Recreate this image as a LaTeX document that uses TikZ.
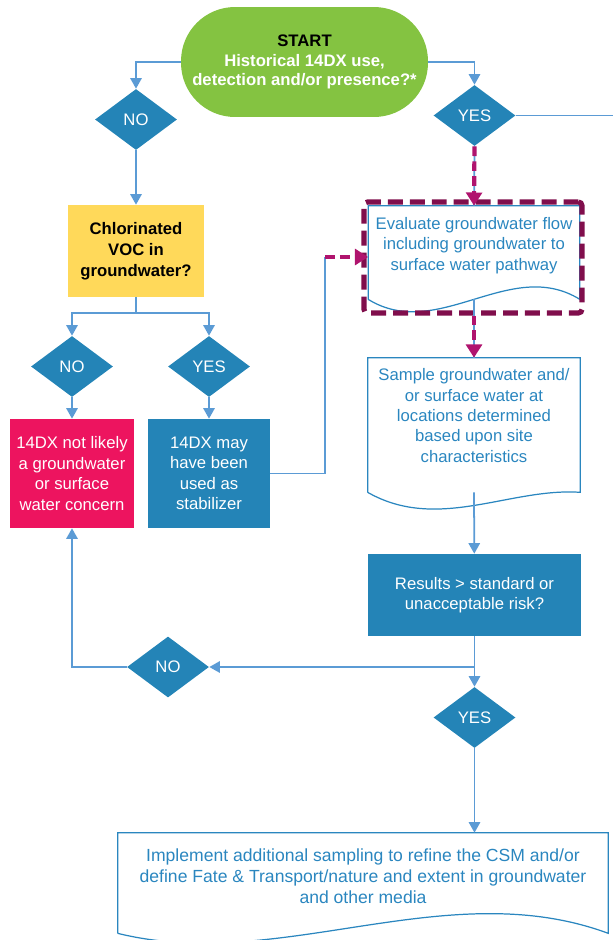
\documentclass[tikz,border=0pt]{standalone}
\usepackage{fontspec}
\setmainfont{Liberation Sans}
\usepackage{xcolor}
\usetikzlibrary{arrows.meta, positioning, shapes.geometric, calc, fit}

\definecolor{startgreen}{RGB}{132,195,65}
\definecolor{decblue}{RGB}{36,132,183}
\definecolor{vocyellow}{RGB}{255,217,90}
\definecolor{concern}{RGB}{237,20,95}
\definecolor{wire}{RGB}{91,155,213}
\definecolor{doctext}{RGB}{42,134,191}
\definecolor{hlarrow}{RGB}{176,20,110}
\definecolor{hlframe}{RGB}{128,14,76}

% document outline: node, drop of the sides, wave near right, wave near left
\newcommand{\docoutline}[4]{%
  \coordinate (#1-l)    at ([yshift=-#2]#1.south west);
  \coordinate (#1-r)    at ([yshift=-#2]#1.south east);
  \coordinate (#1-foot) at ([yshift=-#2]#1.south);
  \draw[docline] (#1-l) -- (#1.north west) -- (#1.north east) -- (#1-r)
    .. controls ($(#1-r)!0.33!(#1-l)+(0,#3)$) and ($(#1-r)!0.67!(#1-l)+(0,#4)$) .. (#1-l);
}

\begin{document}
\begin{tikzpicture}[
    x=0.02cm, y=-0.02cm,
    font=\fontsize{9.5}{11.6}\selectfont,
    terminal/.style={rectangle, fill=startgreen, rounded corners=1.08cm, inner sep=0pt,
                     minimum width=4.94cm, minimum height=2.2cm, align=center,
                     font=\bfseries\fontsize{9.5}{11.2}\selectfont},
    decision/.style={diamond, fill=decblue, text=white, inner sep=0pt,
                     minimum width=1.64cm, minimum height=1.22cm},
    query/.style={rectangle, fill=vocyellow, align=center, minimum width=2.72cm,
                  minimum height=1.84cm, font=\bfseries\fontsize{9.5}{11.8}\selectfont},
    block/.style={rectangle, fill=decblue, text=white, align=center,
                  minimum width=2.44cm, minimum height=2.18cm},
    doc/.style={rectangle, text=doctext, align=center, inner sep=2pt},
    docline/.style={draw=doctext, line width=0.7pt},
    link/.style={draw=wire, line width=1pt},
    flow/.style={-{Triangle[length=6pt,width=6.5pt]}, draw=wire, line width=1pt},
    hl/.style={-{Triangle[length=7.5pt,width=9pt]}, draw=hlarrow, line width=2.4pt,
               dash pattern=on 5.5pt off 3pt},
    hlbox/.style={draw=hlframe, line width=2.9pt, dash pattern=on 8.5pt off 4pt,
                  rounded corners=2pt, inner sep=0pt}
]
\useasboundingbox (0,0) rectangle (613,940);

% ---- Start and first decision ----
\node[terminal] (start) at (304.5,62) {START\\
    \textcolor{white}{Historical 14DX use,}\\
    \textcolor{white}{detection and/or presence?*}};
\node[decision] (no1)  at (136,119.5) {NO};
\node[decision] (yes1) at (474.5,115.5) {YES};
\coordinate (exit) at (613,115.5);

% ---- Left branch ----
\node[query] (voc) at (136,251) {Chlorinated\\VOC in\\groundwater?};
\coordinate (split) at (136,313);
\node[decision] (no2)  at (72,366.5) {NO};
\node[decision] (yes2) at (209,366.5) {YES};
\node[block, fill=concern] (red) at (72,473.5)
    {14DX not likely\\a groundwater\\or surface\\water concern};
\node[block] (stab) at (209,473.5) {14DX may\\have been\\used as\\stabilizer};
\coordinate (bend) at (325,257);

% ---- Right branch ----
\node[doc, minimum width=4.22cm, minimum height=1.58cm] (eval) at (474,245.5)
    {Evaluate groundwater flow\\including groundwater to\\surface water pathway};
\docoutline{eval}{0.28cm}{0.86cm}{-0.86cm}
\node[doc, minimum width=4.24cm, minimum height=2.3cm] (sample) at (474,415.5)
    {Sample groundwater and/\\or surface water at\\locations determined\\based upon site\\characteristics};
\docoutline{sample}{0.38cm}{0.1cm}{-0.8cm}
\node[block, minimum width=4.26cm, minimum height=1.64cm] (results) at (474.5,595)
    {Results > standard or\\unacceptable risk?};
\node[decision] (no3)  at (168,667) {NO};
\node[decision] (yes3) at (474.5,717.5) {YES};
\node[doc, minimum width=9.8cm, minimum height=1.72cm, font=\fontsize{10}{12}\selectfont]
    (impl) at (363,876)
    {Implement additional sampling to refine the CSM and/or\\define Fate \& Transport/nature and extent in groundwater\\and other media};
\docoutline{impl}{0.28cm}{1.2cm}{-0.8cm}

% ---- Highlight frame ----
\coordinate (frametl) at (364,202);
\coordinate (framebr) at (582,313);
\node[hlbox, fit=(frametl)(framebr)] (frame) {};

% ======== Connectors ========
\draw[flow] (start.west) -| (no1.north);
\draw[flow] (start.east) -| (yes1.north);
\draw[link] (yes1.east) -- (exit);
\draw[flow] (no1.south) -- (voc.north);
\draw[link] (voc.south) -- (split);
\draw[flow] (split) -| (no2.north);
\draw[flow] (split) -| (yes2.north);
\draw[flow] (no2) -- (red);
\draw[flow] (yes2) -- (stab);
\draw[link] (stab.east) -| (bend);

\draw[link] (yes1.south) -- (eval.north);
\draw[link] (eval-foot) -- (sample.north);
\draw[flow] (sample-foot) -- (results);
\draw[flow] (results) -- (yes3);
\draw[flow] (results.south |- no3.east) -- (no3.east);
\draw[flow] (no3.west) -| (red.south);
\draw[flow] (yes3.south) -- (yes3.south |- impl.north);

% ======== Highlighted path ========
\draw[hl] (yes1.south) -- (eval.north);
\draw[hl] (bend) -- (bend -| eval.west);
\draw[hl] (frame.south -| sample.north) -- (sample.north);

\end{tikzpicture}
\end{document}
